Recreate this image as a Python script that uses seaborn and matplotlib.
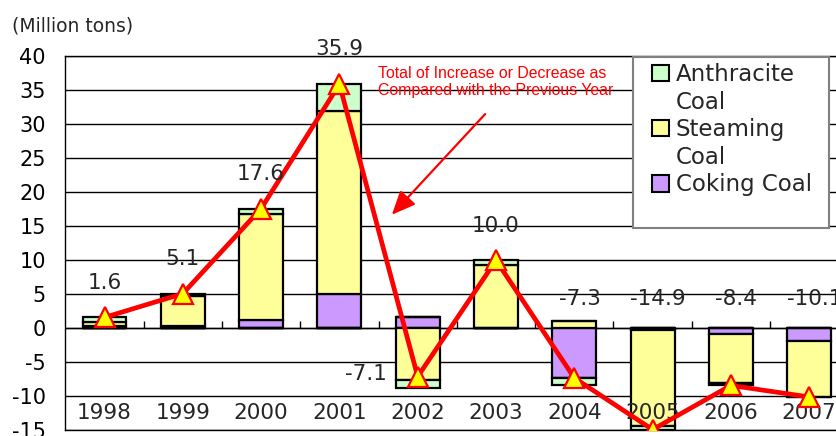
import numpy as np
import pandas as pd
import matplotlib
matplotlib.use("Agg")
import matplotlib.pyplot as plt
from matplotlib.patches import Patch, Rectangle
import seaborn as sns

# Year-on-year change in coal imports by type (million tons)
years = ["1998", "1999", "2000", "2001", "2002", "2003", "2004", "2005", "2006", "2007"]
coking = [0.4, 0.3, 1.2, 5.0, 1.7, 0.0, -7.3, -0.2, -0.8, -1.8]
steaming = [0.5, 4.5, 15.6, 27.0, -7.6, 9.3, 1.1, -14.2, -7.2, -8.3]
anthracite = [0.7, 0.3, 0.8, 3.9, -1.2, 0.7, -1.1, -0.5, -0.4, 0.0]
totals = [1.6, 5.1, 17.6, 35.9, -7.1, 10.0, -7.3, -14.9, -8.4, -10.1]

series_names = ["Coking Coal", "Steaming Coal", "Anthracite Coal"]
series_values = [coking, steaming, anthracite]
series_colors = ["#CC99FF", "#FFFF99", "#CCFFCC"]

sns.set_style("white")
plt.rcParams["font.family"] = ["DejaVu Sans"]
plt.rcParams["axes.unicode_minus"] = False

W, H = 836, 436
fig = plt.figure(figsize=(W / 100, H / 100), dpi=100)
ax_left, ax_right, ax_top, ax_bottom = 65.35, 848.35, 56.3, 430.3
ax = fig.add_axes([ax_left / W, 1 - ax_bottom / H,
                   (ax_right - ax_left) / W, (ax_bottom - ax_top) / H])

# stacked bars: positive parts stack upward, negative parts downward
pos_base = np.zeros(len(years))
neg_base = np.zeros(len(years))
for name, vals, col in zip(series_names, series_values, series_colors):
    v = np.array(vals, dtype=float)
    pos = np.where(v > 0, v, 0.0)
    neg = np.where(v < 0, v, 0.0)
    for part, base in ((pos, pos_base), (neg, neg_base)):
        df = pd.DataFrame({"year": years, "value": part})
        sns.barplot(data=df, x="year", y="value", ax=ax, width=0.56,
                    color=col, edgecolor="black", linewidth=1.6,
                    errorbar=None, saturation=1, bottom=base.copy(), zorder=2)
    pos_base += pos
    neg_base += neg

# total change line
xpos = np.arange(len(years))
sns.lineplot(x=xpos, y=totals, ax=ax, color="#FF0000", linewidth=3.4,
             marker="^", markersize=14, markerfacecolor="#FFFF00",
             markeredgecolor="#FF0000", markeredgewidth=1.6, zorder=6,
             legend=False)

# value labels
for i, t in enumerate(totals):
    label = f"{t:.1f}"
    if t > 0:
        ax.annotate(label, (i, t), xytext=(0, 25), textcoords="offset points",
                    ha="center", va="center", fontsize=15.5, zorder=7)
    elif i == 4:
        ax.annotate(label, (i, t), xytext=(-37, 2), textcoords="offset points",
                    ha="center", va="center", fontsize=15.5, zorder=7)
    else:
        ax.annotate(label, (i, 0), xytext=(4, 21), textcoords="offset points",
                    ha="center", va="center", fontsize=15.5, zorder=7)

# axes styling
ax.set_xlim(-0.5, len(years) - 0.5)
ax.set_ylim(-15, 40)
ax.set_yticks(np.arange(-15, 41, 5))
ax.tick_params(axis="y", length=0, pad=14, labelsize=15, colors="black")
ax.set_xticks([])
ax.set_xlabel("")
ax.set_ylabel("")
ax.set_axisbelow(True)
ax.grid(axis="y", color="black", linewidth=1.0)
ax.axhline(0, color="black", linewidth=1.0, zorder=1.5)
for side in ["left", "top", "bottom", "right"]:
    ax.spines[side].set_color("black")
    ax.spines[side].set_linewidth(1.0)

# category boundary ticks on the zero line
ax.vlines(np.arange(len(years)) + 0.5, 0, 1.1, color="black", linewidth=1.0, zorder=1.5)

# category labels
for i, y in enumerate(years):
    ax.text(i, -12.45, y, ha="center", va="center", fontsize=15.5, zorder=5)

# note with arrow
ax.text(3.49, 36.2, "Total of Increase or Decrease as\nCompared with the Previous Year",
        color="#FF0000", fontsize=11.4, family=["Liberation Sans"],
        ha="left", va="center", linespacing=1.2, zorder=7)
ax.annotate("", xy=(3.646, 16.4), xytext=(4.885, 31.8),
            arrowprops=dict(arrowstyle="-|>,head_length=0.8,head_width=0.35",
                            color="#FF0000", lw=1.6, mutation_scale=18), zorder=7)

# unit label
fig.text(12 / W, 1 - 26 / H, "(Million tons)", ha="left", va="center", fontsize=13.5)

# legend box
box = Rectangle((633 / W, 1 - 228 / H), (829 - 633) / W, (228 - 57) / H,
                transform=fig.transFigure, facecolor="white", edgecolor="#808080",
                linewidth=1.5, zorder=10)
fig.patches.append(box)

blank = Patch(facecolor="none", edgecolor="none")
handles = [Patch(facecolor="#CCFFCC", edgecolor="black", linewidth=1.5), blank,
           Patch(facecolor="#FFFF99", edgecolor="black", linewidth=1.5), blank,
           Patch(facecolor="#CC99FF", edgecolor="black", linewidth=1.5)]
labels = ["Anthracite", "Coal", "Steaming", "Coal", "Coking Coal"]
leg = fig.legend(handles, labels, loc="upper left",
                 bbox_to_anchor=(651.7 / W, 1 - 63 / H), bbox_transform=fig.transFigure,
                 frameon=False, borderpad=0, borderaxespad=0,
                 handlelength=0.74, handleheight=0.74, handletextpad=0.3,
                 labelspacing=0.2, fontsize=16.5)
leg.set_zorder(11)

fig.savefig("out.png", dpi=100)
